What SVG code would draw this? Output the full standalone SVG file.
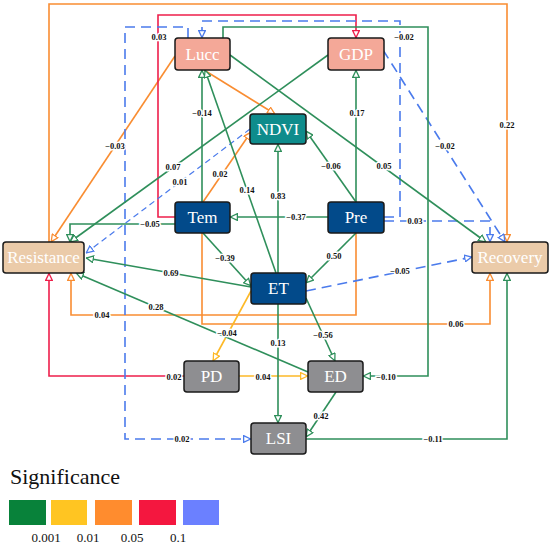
<svg xmlns="http://www.w3.org/2000/svg" width="550" height="547" viewBox="0 0 550 547">
<style>
.e{fill:none;stroke-width:1.6}
.g{stroke:#2F8F5B;marker-end:url(#mG)}
.o{stroke:#F98D32;marker-end:url(#mO)}
.r{stroke:#EE1F4B;marker-end:url(#mR)}
.y{stroke:#FDB927;marker-end:url(#mY)}
.b{stroke:#4B7BEC;stroke-dasharray:10,6;marker-end:url(#mB)}
.bt{stroke-width:1.2;stroke-dasharray:6,4}
.l{font-family:"Liberation Serif","Times New Roman",serif;font-size:8.5px;font-weight:bold;fill:#111;text-anchor:middle;dominant-baseline:central;stroke:#fff;stroke-width:3;paint-order:stroke}
.n rect{stroke:#1a1a1a;stroke-width:1.5}
.n text{font-family:"Liberation Serif","Times New Roman",serif;font-size:17px;fill:#fff;text-anchor:middle;dominant-baseline:central}
.lg{font-family:"Liberation Serif","Times New Roman",serif;fill:#111}
</style>
<defs>
<marker id="mG" viewBox="0 0 10 10" refX="10" refY="5" markerWidth="8" markerHeight="8" markerUnits="userSpaceOnUse" orient="auto"><path d="M0.8,0.8 L9.5,5 L0.8,9.2 Z" fill="#fff" stroke="#2F8F5B" stroke-width="1.6"/></marker>
<marker id="mO" viewBox="0 0 10 10" refX="10" refY="5" markerWidth="8" markerHeight="8" markerUnits="userSpaceOnUse" orient="auto"><path d="M0.8,0.8 L9.5,5 L0.8,9.2 Z" fill="#fff" stroke="#F98D32" stroke-width="1.6"/></marker>
<marker id="mR" viewBox="0 0 10 10" refX="10" refY="5" markerWidth="8" markerHeight="8" markerUnits="userSpaceOnUse" orient="auto"><path d="M0.8,0.8 L9.5,5 L0.8,9.2 Z" fill="#fff" stroke="#EE1F4B" stroke-width="1.6"/></marker>
<marker id="mY" viewBox="0 0 10 10" refX="10" refY="5" markerWidth="8" markerHeight="8" markerUnits="userSpaceOnUse" orient="auto"><path d="M0.8,0.8 L9.5,5 L0.8,9.2 Z" fill="#fff" stroke="#FDB927" stroke-width="1.6"/></marker>
<marker id="mB" viewBox="0 0 10 10" refX="10" refY="5" markerWidth="8" markerHeight="8" markerUnits="userSpaceOnUse" orient="auto"><path d="M0.8,0.8 L9.5,5 L0.8,9.2 Z" fill="#fff" stroke="#4B7BEC" stroke-width="1.6"/></marker>
</defs>
<rect width="550" height="547" fill="#fff"/>
<g id="connectors">
<!-- orange -->
<path class="e o" d="M49,242 V4 H507 V242"/>
<path class="e o" d="M175,56 L51,242"/>
<path class="e o" d="M204,70 L275,114"/>
<path class="e o" d="M203,202 L251,132"/>
<path class="e o" d="M202,233 V324 H490 V273"/>
<path class="e o" d="M356,233 V315 H71 V273"/>
<!-- red -->
<path class="e r" d="M175,217 H158 V15 H356 V38"/>
<path class="e r" d="M184,376 H49 V273"/>
<!-- yellow -->
<path class="e y" d="M251,291 L213,361"/>
<path class="e y" d="M239,376 H308"/>
<!-- blue -->
<path class="e b" d="M188,38 V27 H125 V439 H251"/>
<path class="e b" d="M384,217 H400 V21 H202 V38"/>
<path class="e b" d="M384,221 H490 V242"/>
<path class="e b" d="M383,50 L505,242"/>
<path class="e b bt" d="M250,129 L86,253"/>
<path class="e b" d="M306,291 L472,257"/>
<!-- green -->
<path class="e g" d="M230,55 L486,242"/>
<path class="e g" d="M328,55 L70,242"/>
<path class="e g" d="M175,224 H70 V242"/>
<path class="e g" d="M202,202 V70"/>
<path class="e g" d="M276,273 L205,70"/>
<path class="e g" d="M278,273 V144"/>
<path class="e g" d="M356,202 L306,131"/>
<path class="e g" d="M356,202 V70"/>
<path class="e g" d="M328,217 H230"/>
<path class="e g" d="M203,233 L251,286"/>
<path class="e g" d="M356,233 L306,283"/>
<path class="e g" d="M251,287 L86,258"/>
<path class="e g" d="M308,372 L76,273"/>
<path class="e g" d="M306,298 L335,361"/>
<path class="e g" d="M278,304 V423"/>
<path class="e g" d="M336,392 L306,437"/>
<path class="e g" d="M306,439 H507 V273"/>
<path class="e g" d="M223,38 V27 H428 V376 H363"/>
<!-- labels -->
<text class="l" x="507" y="125">0.22</text>
<text class="l" x="115" y="146">−0.03</text>
<text class="l" x="220" y="174">0.02</text>
<text class="l" x="456" y="324">0.06</text>
<text class="l" x="102" y="315">0.04</text>
<text class="l" x="159" y="37">0.03</text>
<text class="l" x="174" y="377">0.02</text>
<text class="l" x="227" y="333" font-weight="normal">−0.04</text>
<text class="l" x="263" y="377">0.04</text>
<text class="l" x="182" y="439" font-weight="normal">0.02</text>
<text class="l" x="404" y="37">−0.02</text>
<text class="l" x="415" y="221">0.03</text>
<text class="l" x="445" y="146">−0.02</text>
<text class="l" x="180" y="182">0.01</text>
<text class="l" x="400" y="271">−0.05</text>
<text class="l" x="384" y="166">0.05</text>
<text class="l" x="173" y="167">0.07</text>
<text class="l" x="150" y="224">−0.05</text>
<text class="l" x="202" y="113">−0.14</text>
<text class="l" x="247" y="190">0.14</text>
<text class="l" x="278" y="196">0.83</text>
<text class="l" x="331" y="166">−0.06</text>
<text class="l" x="357" y="113">0.17</text>
<text class="l" x="296" y="217">−0.37</text>
<text class="l" x="225" y="258">−0.39</text>
<text class="l" x="334" y="256">0.50</text>
<text class="l" x="171" y="273">0.69</text>
<text class="l" x="156" y="307">0.28</text>
<text class="l" x="323" y="335" font-weight="normal">−0.56</text>
<text class="l" x="278" y="343" font-weight="normal">0.13</text>
<text class="l" x="321" y="416" font-weight="normal">0.42</text>
<text class="l" x="433" y="439">−0.11</text>
<text class="l" x="386" y="377">−0.10</text>
</g>
<g id="Lucc" class="n"><rect x="175" y="38" width="55" height="32" rx="3" fill="#F4A898"/><text x="202.5" y="54">Lucc</text></g>
<g id="GDP" class="n"><rect x="328" y="38" width="56" height="32" rx="3" fill="#F4A898"/><text x="356" y="54">GDP</text></g>
<g id="NDVI" class="n"><rect x="250" y="114" width="56" height="30" rx="3" fill="#0E8C8C"/><text x="278" y="129">NDVI</text></g>
<g id="Tem" class="n"><rect x="175" y="202" width="55" height="31" rx="3" fill="#024A8A"/><text x="202.5" y="217.5">Tem</text></g>
<g id="Pre" class="n"><rect x="328" y="202" width="56" height="31" rx="3" fill="#024A8A"/><text x="356" y="217.5">Pre</text></g>
<g id="ET" class="n"><rect x="251" y="273" width="55" height="31" rx="3" fill="#024A8A"/><text x="278.5" y="288.5">ET</text></g>
<g id="Resistance" class="n"><rect x="3" y="242" width="81" height="31" rx="3" fill="#EBCBA9"/><text x="43.5" y="257.5">Resistance</text></g>
<g id="Recovery" class="n"><rect x="472" y="242" width="76" height="31" rx="3" fill="#EBCBA9"/><text x="510" y="257.5">Recovery</text></g>
<g id="PD" class="n"><rect x="184" y="361" width="55" height="31" rx="3" fill="#8E8E91"/><text x="211.5" y="376.5">PD</text></g>
<g id="ED" class="n"><rect x="308" y="361" width="55" height="31" rx="3" fill="#8E8E91"/><text x="335.5" y="376.5">ED</text></g>
<g id="LSI" class="n"><rect x="251" y="423" width="55" height="31" rx="3" fill="#8E8E91"/><text x="278.5" y="438.5">LSI</text></g>
<g id="legend">
<text class="lg" x="10" y="484" font-size="22">Significance</text>
<rect x="9" y="500" width="37" height="25" fill="#08823A"/>
<rect x="51" y="500" width="36" height="25" fill="#FFC522"/>
<rect x="95" y="500" width="37" height="25" fill="#FF8C2E"/>
<rect x="139" y="500" width="37" height="25" fill="#F4173F"/>
<rect x="183" y="500" width="36" height="25" fill="#6B80FF"/>
<text class="lg" x="46" y="542" font-size="13" text-anchor="middle">0.001</text>
<text class="lg" x="88" y="542" font-size="13" text-anchor="middle">0.01</text>
<text class="lg" x="132" y="542" font-size="13" text-anchor="middle">0.05</text>
<text class="lg" x="178" y="542" font-size="13" text-anchor="middle">0.1</text>
</g>
</svg>
